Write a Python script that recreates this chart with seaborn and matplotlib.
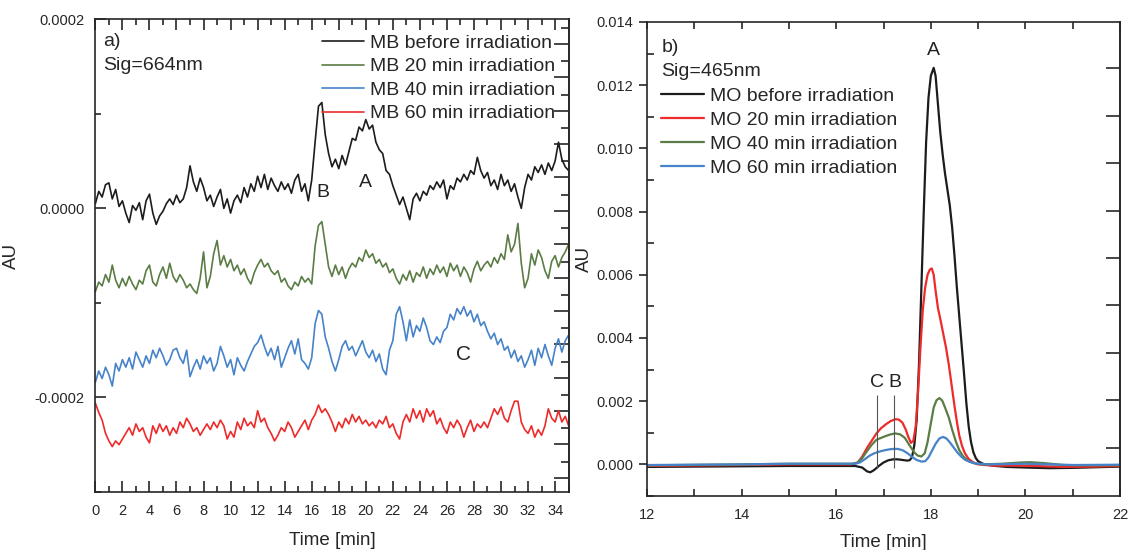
import numpy as np
import pandas as pd
import matplotlib
matplotlib.use("Agg")
import matplotlib.pyplot as plt
import seaborn as sns
from matplotlib.ticker import MultipleLocator, FormatStrFormatter

# ---- panel a: MB, Sig=664nm, values in micro-AU, one value every 0.25 min ----
mb_time = np.linspace(0, 35, 141)
mb_before = [
    5, 18, 12, 25, 27, 10, 20, 2,
    8, -5, -15, 3, -2, 6, -12, 8,
    15, -5, -17, -8, -3, 5, 10, 4,
    14, 6, 10, 22, 45, 28, 18, 32,
    22, 8, 14, 2, 12, 20, 0, 10,
    -5, 8, 14, 6, 22, 12, 26, 18,
    34, 22, 36, 20, 32, 24, 18, 28,
    20, 26, 16, 30, 36, 18, 26, 8,
    30, 70, 108, 112, 78, 58, 44, 52,
    42, 56, 46, 60, 74, 72, 86, 82,
    94, 84, 88, 70, 62, 58, 40, 36,
    24, 14, 4, 12, 0, -12, 10, 16,
    8, 18, 14, 24, 20, 28, 22, 30,
    10, 24, 20, 32, 28, 36, 30, 40,
    36, 54, 40, 32, 38, 24, 30, 20,
    36, 24, 30, 18, 26, 12, 0, 22,
    36, 30, 44, 38, 46, 36, 48, 40,
    50, 70, 52, 44, 40]
mb_20 = [
    -88, -78, -82, -70, -78, -60, -76, -84,
    -74, -82, -72, -80, -86, -76, -80, -66,
    -60, -78, -82, -70, -62, -74, -58, -72,
    -78, -70, -76, -84, -80, -86, -90, -74,
    -46, -84, -72, -48, -34, -60, -50, -62,
    -54, -66, -60, -70, -64, -74, -80, -68,
    -60, -54, -62, -58, -66, -70, -66, -78,
    -74, -82, -86, -78, -82, -72, -78, -74,
    -80, -40, -18, -14, -38, -62, -72, -60,
    -70, -62, -74, -64, -58, -62, -52, -56,
    -44, -52, -48, -58, -54, -62, -58, -68,
    -64, -74, -80, -70, -76, -66, -78, -68,
    -72, -62, -74, -64, -70, -60, -68, -62,
    -72, -58, -66, -60, -72, -62, -68, -78,
    -64, -56, -66, -60, -56, -62, -52, -58,
    -48, -54, -28, -46, -38, -16, -58, -84,
    -74, -48, -60, -44, -52, -66, -74, -56,
    -50, -62, -52, -46, -38]
mb_40 = [
    -184, -172, -180, -168, -176, -188, -164, -172,
    -160, -168, -158, -170, -152, -160, -168, -156,
    -164, -150, -158, -148, -156, -166, -160, -150,
    -148, -158, -164, -150, -178, -168, -160, -170,
    -156, -164, -158, -172, -164, -146, -156, -168,
    -160, -176, -158, -166, -172, -162, -154, -146,
    -142, -134, -146, -156, -148, -160, -146, -168,
    -158, -148, -140, -154, -138, -160, -164, -170,
    -158, -122, -108, -112, -136, -148, -162, -172,
    -160, -146, -140, -150, -146, -156, -148, -140,
    -152, -158, -150, -162, -154, -170, -176, -150,
    -140, -112, -104, -120, -140, -118, -136, -124,
    -130, -116, -126, -140, -144, -136, -142, -130,
    -126, -112, -118, -106, -112, -104, -114, -108,
    -120, -112, -124, -120, -130, -138, -132, -144,
    -138, -150, -146, -158, -150, -162, -156, -168,
    -160, -150, -166, -148, -158, -144, -156, -166,
    -148, -138, -152, -140, -134]
mb_60 = [
    -206, -216, -224, -238, -246, -252, -246, -250,
    -244, -238, -232, -240, -228, -236, -232, -242,
    -248, -230, -238, -228, -236, -230, -240, -232,
    -238, -226, -232, -222, -228, -236, -232, -240,
    -234, -228, -234, -226, -232, -224, -230, -244,
    -236, -242, -226, -234, -222, -230, -226, -232,
    -214, -226, -222, -232, -238, -246, -240, -232,
    -236, -226, -232, -242, -236, -230, -224, -234,
    -224, -218, -208, -216, -212, -218, -226, -236,
    -226, -232, -222, -228, -218, -226, -220, -228,
    -224, -230, -226, -232, -224, -228, -220, -232,
    -228, -238, -244, -226, -218, -226, -212, -222,
    -214, -226, -212, -220, -214, -228, -222, -232,
    -238, -226, -232, -224, -230, -242, -232, -224,
    -236, -228, -232, -226, -232, -222, -212, -218,
    -210, -222, -226, -214, -204, -204, -226, -234,
    -238, -230, -242, -234, -240, -230, -212, -222,
    -226, -214, -226, -220, -230]
mb_labels = ["MB before irradiation", "MB 20 min irradiation",
             "MB 40 min irradiation", "MB 60 min irradiation"]
mb_colors = ["#1c1c1c", "#5b7d45", "#4683c9", "#ee2a2a"]
mb_peak_names = ["B", "A", "C"]
mb_peak_x = [16.8, 19.95, 27.2]
mb_peak_y = [17, 27, -155]

# ---- panel b: MO, Sig=465nm, values in milli-AU ----
mo_before_t = [12.0, 13.0, 14.0, 15.0, 16.0, 16.4, 16.55, 16.65, 16.72, 16.8, 16.9,
               17.0, 17.1, 17.2, 17.3, 17.4, 17.5, 17.55, 17.6, 17.65, 17.7, 17.75,
               17.8, 17.85, 17.9, 17.95, 18.0, 18.06, 18.1, 18.15, 18.2, 18.25, 18.3,
               18.35, 18.4, 18.45, 18.5, 18.55, 18.6, 18.65, 18.7, 18.75, 18.8, 18.85,
               18.9, 18.95, 19.0, 19.1, 19.3, 19.6, 20.0, 20.5, 21.0, 21.5, 22.0]
mo_before = [-0.08, -0.07, -0.06, -0.05, -0.05, -0.05, -0.1, -0.22, -0.25, -0.18, -0.05,
             0.06, 0.13, 0.16, 0.16, 0.14, 0.12, 0.13, 0.22, 0.6, 1.4, 3.2,
             5.6, 8.0, 10.2, 11.6, 12.3, 12.55, 12.3, 11.4, 10.5, 9.8, 9.2,
             8.7, 8.2, 7.5, 6.6, 5.6, 4.7, 3.8, 2.9, 1.95, 1.2, 0.7,
             0.38, 0.2, 0.1, 0.02, -0.04, -0.08, -0.1, -0.12, -0.11, -0.09, -0.07]
mo_20_t = [12.0, 14.0, 15.0, 16.0, 16.3, 16.45, 16.55, 16.65, 16.75, 16.85, 16.95,
           17.05, 17.15, 17.25, 17.32, 17.4, 17.47, 17.52, 17.58, 17.63, 17.68, 17.73,
           17.78, 17.83, 17.88, 17.93, 17.98, 18.02, 18.06, 18.1, 18.15, 18.2, 18.26,
           18.32, 18.38, 18.44, 18.5, 18.55, 18.6, 18.66, 18.72, 18.8, 18.9, 19.0,
           19.3, 19.8, 20.2, 20.8, 21.5, 22.0]
mo_20 = [-0.05, -0.02, 0.0, 0.0, 0.0, 0.05, 0.25, 0.52, 0.75, 0.98, 1.15,
         1.27, 1.37, 1.43, 1.42, 1.32, 1.1, 0.88, 0.68, 0.75, 1.2, 2.3,
         3.7, 4.9, 5.6, 6.0, 6.17, 6.2, 6.0, 5.5, 4.95, 4.6, 4.15,
         3.7, 3.15, 2.5, 1.85, 1.35, 0.92, 0.58, 0.35, 0.17, 0.06, 0.0,
         -0.04, -0.04, -0.05, -0.08, -0.07, -0.05]
mo_40_t = [12.0, 14.0, 15.0, 16.0, 16.35, 16.45, 16.55, 16.65, 16.75, 16.85, 16.95,
           17.05, 17.15, 17.25, 17.35, 17.45, 17.55, 17.65, 17.72, 17.8, 17.87, 17.93,
           18.0, 18.06, 18.12, 18.18, 18.24, 18.3, 18.38, 18.45, 18.53, 18.6, 18.68,
           18.78, 18.9, 19.1, 19.5, 19.9, 20.1, 20.4, 20.8, 21.5, 22.0]
mo_40 = [-0.03, 0.0, 0.02, 0.02, 0.02, 0.06, 0.2, 0.42, 0.62, 0.78, 0.84,
         0.9, 0.95, 0.98, 0.95, 0.84, 0.6, 0.38, 0.28, 0.25, 0.35, 0.7,
         1.3, 1.8, 2.03, 2.1, 2.02, 1.8, 1.48, 1.1, 0.72, 0.45, 0.26,
         0.12, 0.04, 0.0, 0.02, 0.06, 0.07, 0.04, -0.02, -0.03, -0.02]
mo_60_t = [12.0, 14.0, 15.0, 16.0, 16.4, 16.5, 16.6, 16.7, 16.8, 16.9, 17.0,
           17.1, 17.2, 17.3, 17.4, 17.5, 17.6, 17.7, 17.8, 17.88, 17.95, 18.02,
           18.1, 18.18, 18.26, 18.33, 18.4, 18.48, 18.56, 18.64, 18.72, 18.82, 18.95,
           19.2, 20.0, 21.0, 22.0]
mo_60 = [-0.02, 0.0, 0.02, 0.02, 0.02, 0.06, 0.16, 0.27, 0.35, 0.4, 0.44,
         0.47, 0.49, 0.49, 0.45, 0.36, 0.24, 0.14, 0.09, 0.1, 0.22, 0.42,
         0.65, 0.82, 0.87, 0.82, 0.7, 0.54, 0.38, 0.25, 0.15, 0.08, 0.03,
         0.0, 0.02, -0.02, -0.01]
mo_labels = ["MO before irradiation", "MO 20 min irradiation",
             "MO 40 min irradiation", "MO 60 min irradiation"]
mo_colors = ["#1c1c1c", "#ee2a2a", "#5b7d45", "#4683c9"]
mo_peak_names = ["C", "B", "A"]
mo_peak_x = [16.87, 17.23, 18.06]
mo_peak_y = [2.6, 2.6, 13.1]
mo_marker_bottom = -0.1
mo_marker_top = 2.2

# %%
mb_series = [mb_before, mb_20, mb_40, mb_60]
df_a = pd.concat([
    pd.DataFrame({"time": mb_time, "au": np.array(v) * 1e-6, "sample": lab})
    for v, lab in zip(mb_series, mb_labels)], ignore_index=True)

mo_series = [(mo_before_t, mo_before), (mo_20_t, mo_20), (mo_40_t, mo_40), (mo_60_t, mo_60)]
df_b = pd.concat([
    pd.DataFrame({"time": t, "au": np.array(v) * 1e-3, "sample": lab})
    for (t, v), lab in zip(mo_series, mo_labels)], ignore_index=True)

sns.set_theme(style="ticks")
plt.rcParams["font.family"] = ["Liberation Sans", "DejaVu Sans"]
plt.rcParams["axes.unicode_minus"] = False
plt.rcParams["axes.linewidth"] = 1.2

fig = plt.figure(figsize=(11.3, 5.5), dpi=100)
ax_a = fig.add_axes([0.0844, 0.1055, 0.4188, 0.8594])
ax_b = fig.add_axes([0.5726, 0.0982, 0.4186, 0.8618])

# ---- panel a ----
sns.lineplot(data=df_a, x="time", y="au", hue="sample", hue_order=mb_labels,
             palette=dict(zip(mb_labels, mb_colors)), estimator=None, sort=False,
             lw=1.2, ax=ax_a)
ax_a.set_xlim(0, 35)
ax_a.set_ylim(-0.0003, 0.0002)
ax_a.xaxis.set_major_locator(MultipleLocator(2))
ax_a.xaxis.set_minor_locator(MultipleLocator(1))
ax_a.yaxis.set_major_locator(MultipleLocator(0.0002))
ax_a.yaxis.set_minor_locator(MultipleLocator(0.0001))
ax_a.yaxis.set_major_formatter(FormatStrFormatter("%.4f"))
ax_a.tick_params(which="both", direction="in", top=True, labelsize=10.5, width=1.2)
ax_a.tick_params(which="major", length=8, pad=9)
ax_a.tick_params(which="minor", length=4)
ax_a.tick_params(axis="y", pad=8)
sec_a = ax_a.secondary_yaxis("right")
sec_a.set_yticks(np.arange(-0.000285, 0.0002, 0.0000353))
sec_a.set_yticks(np.arange(-0.000268, 0.0002, 0.0000353), minor=True)
sec_a.tick_params(which="both", direction="in", labelright=False, width=1.2)
sec_a.tick_params(which="major", length=11)
sec_a.tick_params(which="minor", length=6)
ax_a.set_xlabel("Time [min]", fontsize=13.5, labelpad=10)
ax_a.set_ylabel("AU", fontsize=13.5, labelpad=10)
h, l = ax_a.get_legend_handles_labels()
ax_a.legend(h, l, loc="upper right", bbox_to_anchor=(0.972, 0.968), frameon=False,
            fontsize=14, handlelength=2.2, handletextpad=0.3, labelspacing=0.3,
            borderpad=0, borderaxespad=0)
ax_a.text(0.017, 0.952, "a)", transform=ax_a.transAxes, fontsize=14, va="center")
ax_a.text(0.017, 0.903, "Sig=664nm", transform=ax_a.transAxes, fontsize=14, va="center")
for name, x, y in zip(mb_peak_names, mb_peak_x, mb_peak_y):
    ax_a.text(x, y * 1e-6, name, fontsize=15 if name == "C" else 14,
              ha="center", va="center", color="#222222")

# ---- panel b ----
sns.lineplot(data=df_b, x="time", y="au", hue="sample", hue_order=mo_labels,
             palette=dict(zip(mo_labels, mo_colors)), estimator=None, sort=False,
             lw=1.6, ax=ax_b)
ax_b.set_xlim(12, 22)
ax_b.set_ylim(-0.001, 0.014)
ax_b.xaxis.set_major_locator(MultipleLocator(2))
ax_b.xaxis.set_minor_locator(MultipleLocator(1))
ax_b.yaxis.set_major_locator(MultipleLocator(0.002))
ax_b.yaxis.set_minor_locator(MultipleLocator(0.001))
ax_b.yaxis.set_major_formatter(FormatStrFormatter("%.3f"))
ax_b.tick_params(which="both", direction="in", top=True, labelsize=10.5, width=1.2)
ax_b.tick_params(which="both", length=5)
ax_b.tick_params(axis="x", pad=9)
ax_b.tick_params(axis="y", which="major", direction="out", length=6, pad=4)
sec_b = ax_b.secondary_yaxis("right")
sec_b.set_yticks(np.arange(0.00053, 0.014, 0.0015))
sec_b.tick_params(direction="in", length=10, labelright=False, width=1.2)
ax_b.set_xlabel("Time [min]", fontsize=13.5, labelpad=8)
ax_b.set_ylabel("AU", fontsize=13.5, labelpad=2)
h, l = ax_b.get_legend_handles_labels()
ax_b.legend(h, l, loc="upper left", bbox_to_anchor=(0.030, 0.862), frameon=False,
            fontsize=14, handlelength=2.2, handletextpad=0.3, labelspacing=0.32,
            borderpad=0, borderaxespad=0)
ax_b.text(0.030, 0.946, "b)", transform=ax_b.transAxes, fontsize=14, va="center")
ax_b.text(0.030, 0.895, "Sig=465nm", transform=ax_b.transAxes, fontsize=14, va="center")
for name, x, y in zip(mo_peak_names, mo_peak_x, mo_peak_y):
    ax_b.text(x, y * 1e-3, name, fontsize=14, ha="center", va="center", color="#222222")
ax_b.vlines(mo_peak_x[:2], mo_marker_bottom * 1e-3, mo_marker_top * 1e-3,
            color="#555555", lw=0.8)

fig.savefig("out.png", dpi=100)
